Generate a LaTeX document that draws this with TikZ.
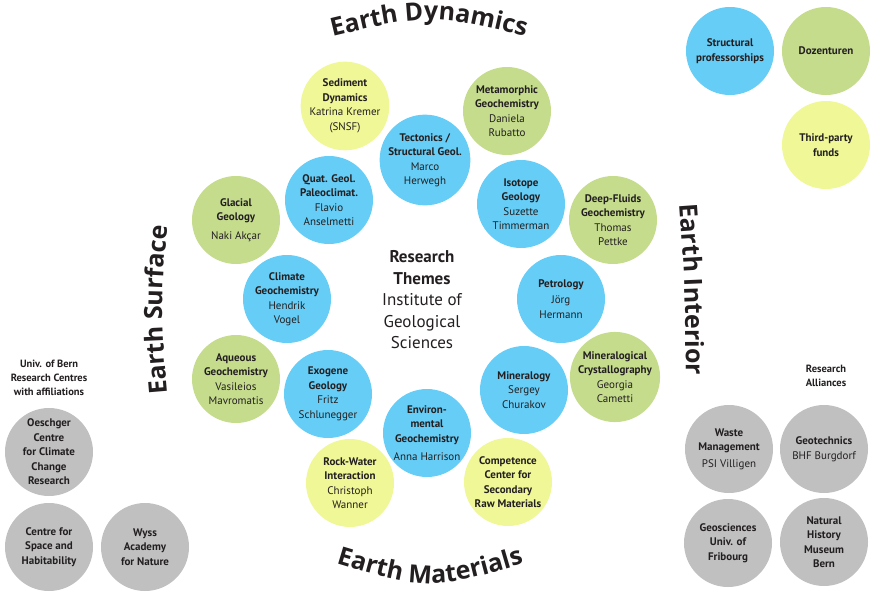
\documentclass[tikz,border=0pt]{standalone}
\usepackage{fontspec}
\setmainfont{PT Sans}
\newfontfamily\areafamily{Open Sans}
\usetikzlibrary{decorations.text}

\definecolor{themeblue}{RGB}{102,205,246}
\definecolor{themegreen}{RGB}{197,220,141}
\definecolor{themeyellow}{RGB}{240,247,150}
\definecolor{partnergray}{RGB}{192,192,192}
\definecolor{inkdark}{RGB}{35,31,32}
\newcommand{\areafont}{\color{inkdark}\areafamily\fontsize{25}{30}\selectfont\bfseries}

\begin{document}
\begin{tikzpicture}[x=1pt, y=-1pt,
	theme/.style={circle, minimum size=88pt, inner sep=0pt, align=center, text=inkdark, font=\fontsize{11}{14.5}\selectfont},
	bluetheme/.style={theme, fill=themeblue},
	greentheme/.style={theme, fill=themegreen},
	yellowtheme/.style={theme, fill=themeyellow},
	partner/.style={theme, fill=partnergray, font=\fontsize{11}{14.5}\selectfont\bfseries},
	arealabel/.style={decoration={text along path, text align=center, text={|\areafont|#1}}, decorate}]
				\useasboundingbox (0,0) rectangle (880,600);
				
				% research themes
				\node[yellowtheme] (sediment) at (345,106) {\textbf{Sediment}\\\textbf{Dynamics}\\Katrina Kremer\\(SNSF)};
				\node[bluetheme] (tectonics) at (425,160) {\textbf{Tectonics /}\\\textbf{Structural Geol.}\\Marco\\Herwegh};
				\node[greentheme] (metamorphic) at (507,111) {\textbf{Metamorphic}\\\textbf{Geochemistry}\\Daniela\\Rubatto};
				\node[bluetheme] (quaternary) at (329,200) {\textbf{Quat. Geol.}\\\textbf{Paleoclimat.}\\Flavio\\Anselmetti};
				\node[greentheme] (glacial) at (236,220) {\textbf{Glacial}\\\textbf{Geology}\\[4pt]Naki Akçar};
				\node[bluetheme] (isotope) at (521,204) {\textbf{Isotope}\\\textbf{Geology}\\Suzette\\Timmerman};
				\node[greentheme] (deepfluids) at (613,220) {\textbf{Deep-Fluids}\\\textbf{Geochemistry}\\Thomas\\Pettke};
				\node[bluetheme] (climate) at (287,299) {\textbf{Climate}\\\textbf{Geochemistry}\\Hendrik\\Vogel};
				\node[bluetheme] (petrology) at (561,299) {\textbf{Petrology}\\[2pt]Jörg\\Hermann};
				\node[greentheme] (aqueous) at (236,379) {\textbf{Aqueous}\\\textbf{Geochemistry}\\Vasileios\\Mavromatis};
				\node[bluetheme] (exogene) at (328,394) {\textbf{Exogene}\\\textbf{Geology}\\Fritz\\Schlunegger};
				\node[bluetheme] (mineralogy) at (524,390) {\textbf{Mineralogy}\\Sergey\\Churakov};
				\node[greentheme] (crystallography) at (615,377) {\textbf{Mineralogical}\\\textbf{Crystallography}\\Georgia\\Cametti};
				\node[bluetheme] (environmental) at (427,433) {\textbf{Environ-}\\\textbf{mental}\\\textbf{Geochemistry}\\[4pt]Anna Harrison};
				\node[yellowtheme] (rockwater) at (350,483) {\textbf{Rock-Water}\\\textbf{Interaction}\\Christoph\\Wanner};
				\node[yellowtheme, font=\fontsize{11}{14.5}\selectfont\bfseries] (competence) at (508,482) {Competence\\Center for\\Secondary\\Raw Materials};
				
				\node[align=center, text=inkdark, font=\fontsize{17}{21.5}\selectfont] (institute) at (422,300) {\textbf{Research}\\\textbf{Themes}\\Institute of\\Geological\\Sciences};
				
				% the four areas
				\path[arealabel={Earth Dynamics}] (318,40) .. controls (429,13) .. (540,40);
				\path[arealabel={Earth Materials}] (315,557) .. controls (430,592) .. (545,557);
				\path[arealabel={Earth Surface}] (170,425) .. controls (160,310) .. (170,195);
				\path[arealabel={Earth Interior}] (678,180) .. controls (686,290) .. (686,400);
				
				% funding
				\node[bluetheme, font=\fontsize{11}{14.5}\selectfont\bfseries] (professorships) at (730,51) {Structural\\professorships};
				\node[greentheme, font=\fontsize{11}{14.5}\selectfont\bfseries] (dozenturen) at (826,51) {Dozenturen};
				\node[yellowtheme, font=\fontsize{11}{14.5}\selectfont\bfseries] (thirdparty) at (826,145) {Third-party\\funds};
				
				% research centres
				\node[align=center, text=inkdark, font=\fontsize{10.5}{14}\selectfont\bfseries] (centres) at (49,378) {Univ. of Bern\\Research Centres\\with affiliations};
				\node[partner] (oeschger) at (49,452) {Oeschger\\Centre\\for Climate\\Change\\Research};
				\node[partner] (space) at (49,547) {Centre for\\Space and\\Habitability};
				\node[partner] (wyss) at (145,547) {Wyss\\Academy\\for Nature};
				
				% research alliances
				\node[align=center, text=inkdark, font=\fontsize{10.5}{14}\selectfont\bfseries] (alliances) at (826,376) {Research\\Alliances};
				\node[partner] (waste) at (729,449) {Waste\\Management\\[2pt]\mdseries PSI Villigen};
				\node[partner] (geotechnics) at (824,449) {Geotechnics\\\mdseries BHF Burgdorf};
				\node[partner] (fribourg) at (728,543) {Geosciences\\Univ. of\\Fribourg};
				\node[partner] (museum) at (824,542) {Natural\\History\\Museum\\Bern};
			\end{tikzpicture}
\end{document}
